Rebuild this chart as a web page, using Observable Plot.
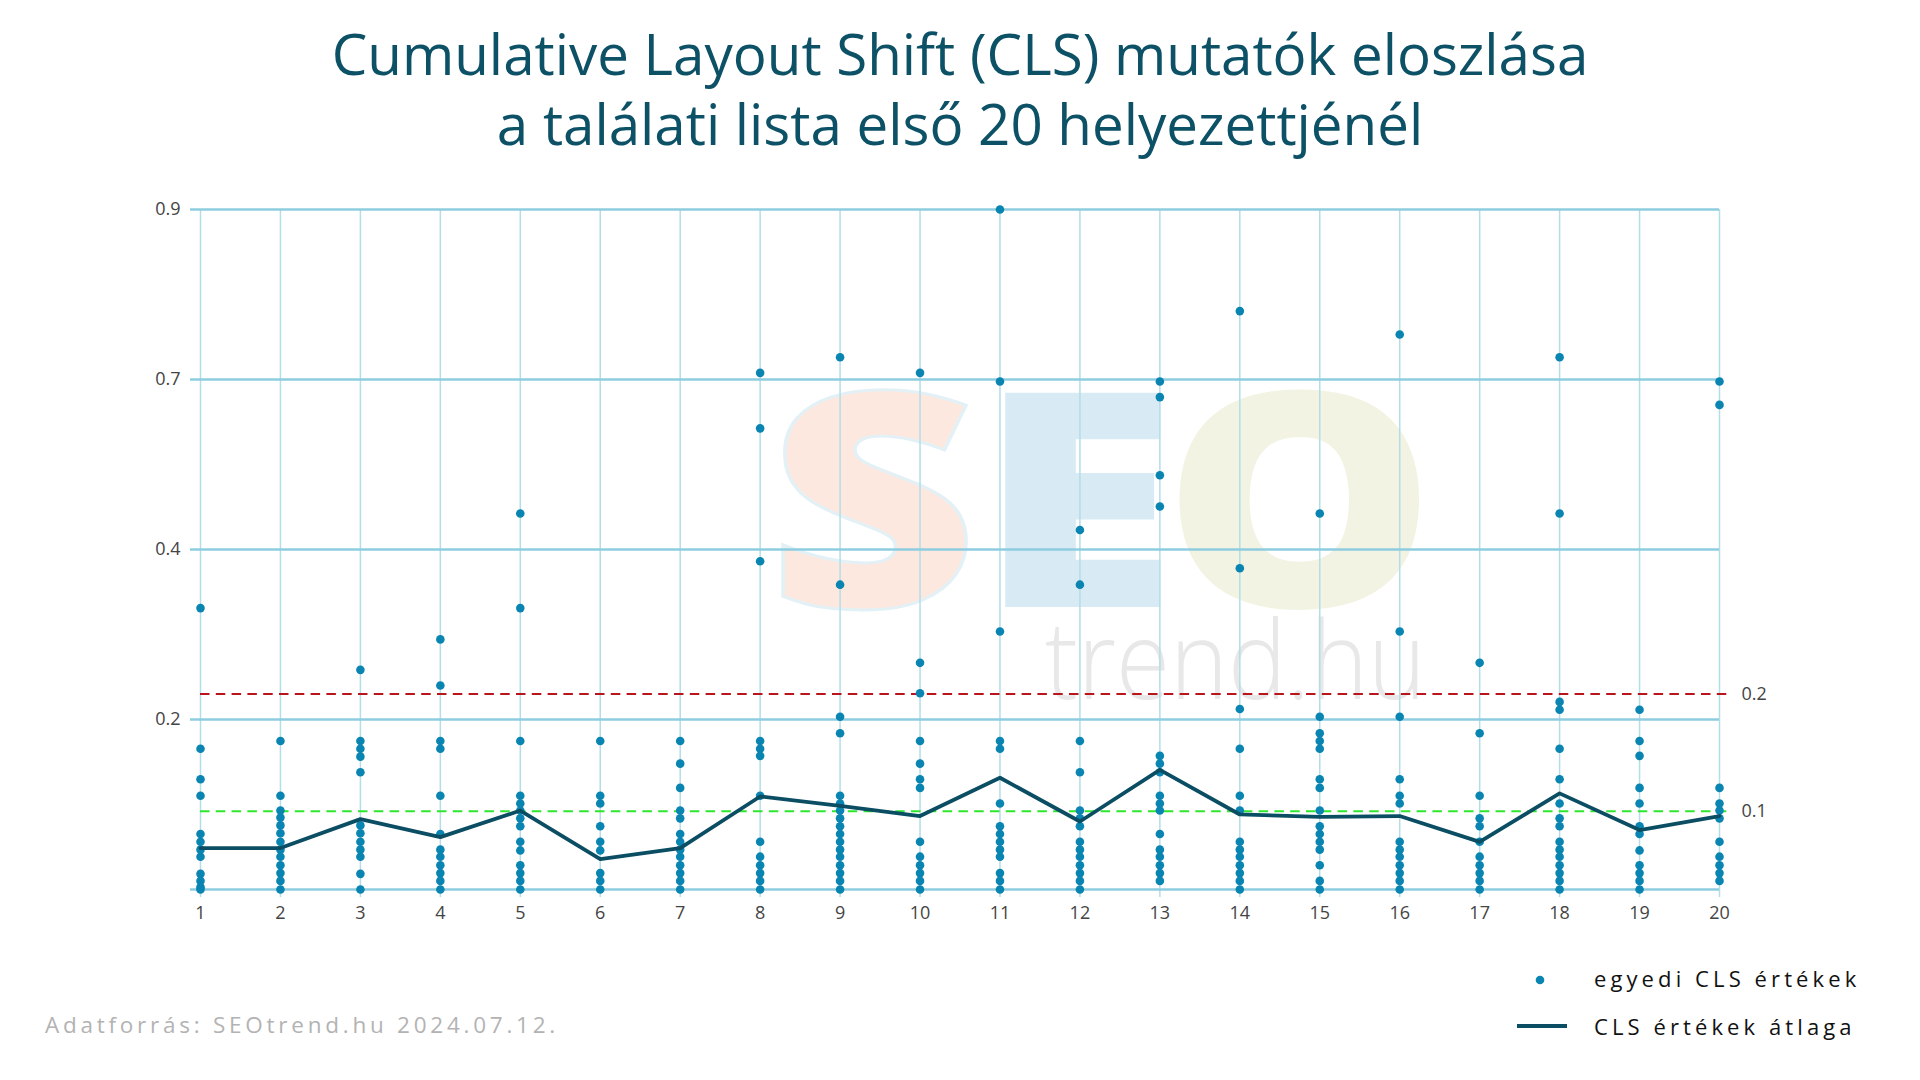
<!DOCTYPE html>
<html>
<head>
<meta charset="utf-8">
<script src="https://cdn.jsdelivr.net/npm/d3@7"></script>
<script src="https://cdn.jsdelivr.net/npm/@observablehq/plot@0.6"></script>
<style>
  body { margin: 0; background: #ffffff; font-family: "Open Sans", sans-serif; }
  #wrap { position: relative; width: 1920px; height: 1080px; overflow: hidden; background: #fff; }
  #title { position: absolute; left: 0; top: 19px; width: 1920px; text-align: center; color: #0c5166; font-size: 56.5px; line-height: 70px; font-weight: 400; z-index: 3; }
  #wm { position: absolute; left: 0; top: 0; width: 1920px; height: 1080px; z-index: 0; font-family: "Open Sans", sans-serif; }
  #wm span { position: absolute; line-height: 0.72; transform-origin: left top; white-space: nowrap; }
  #chart { position: absolute; left: 0; top: 0; z-index: 1; }
  .legtxt { position: absolute; font-size: 22px; letter-spacing: 4.1px; color: #111; z-index: 3; line-height: 1; }
  #caption { position: absolute; left: 45px; top: 1014px; font-size: 22.5px; letter-spacing: 3.75px; color: #b3b3b3; z-index: 3; line-height: 1; }
</style>
</head>
<body>
<div id="wrap">
  <div id="wm"><span style="left:767px;top:383px;font-size:300px;font-weight:800;color:#fde8df;-webkit-text-stroke:3px #e3f1f6;transform:scaleX(1.22);">S</span><span style="left:977px;top:383px;font-size:300px;font-weight:800;color:#d8ebf4;transform:scaleX(1.22);">E</span><span style="left:1162px;top:383px;font-size:300px;font-weight:800;color:#f2f3e2;transform:scaleX(1.15);">O</span><span style="left:1045px;top:619px;font-size:108px;font-weight:300;color:#e8e8e8;transform:scaleX(0.91);">trend.hu</span></div>
  <div id="title">Cumulative Layout Shift (CLS) mutatók eloszlása<br>a találati lista első 20 helyezettjénél</div>
  <div id="chart"></div>
  <svg style="position:absolute;left:1505px;top:964px;z-index:3" width="80" height="80">
    <circle cx="35" cy="16" r="4.3" fill="#0a85b2"></circle>
    <line x1="12" y1="62" x2="62" y2="62" stroke="#0b4e63" stroke-width="4"></line>
  </svg>
  <div class="legtxt" style="left:1594px;top:967px;">egyedi CLS értékek</div>
  <div class="legtxt" style="left:1594px;top:1015px;">CLS értékek átlaga</div>
  <div id="caption">Adatforrás: SEOtrend.hu 2024.07.12.</div>
</div>
<script>
// Positions in the result list
const positions = [1,2,3,4,5,6,7,8,9,10,11,12,13,14,15,16,17,18,19,20];

// Individual CLS values per position (visible points)
const p1  = [0.36, 0.18, 0.141, 0.12, 0.071, 0.061, 0.051, 0.042, 0.02, 0.011, 0.003, 0];
const p2  = [0.19, 0.12, 0.101, 0.092, 0.082, 0.072, 0.061, 0.051, 0.042, 0.031, 0.021, 0.011, 0];
const p3  = [0.281, 0.19, 0.18, 0.17, 0.15, 0.082, 0.072, 0.061, 0.051, 0.042, 0.02, 0];
const p4  = [0.32, 0.261, 0.19, 0.18, 0.12, 0.071, 0.051, 0.042, 0.031, 0.021, 0.011, 0];
const p5  = [0.481, 0.36, 0.19, 0.12, 0.11, 0.101, 0.091, 0.081, 0.061, 0.05, 0.031, 0.021, 0.011, 0];
const p6  = [0.19, 0.12, 0.11, 0.081, 0.061, 0.05, 0.021, 0.011, 0];
const p7  = [0.19, 0.161, 0.13, 0.101, 0.091, 0.071, 0.061, 0.051, 0.042, 0.031, 0.021, 0.011, 0];
const p8  = [0.661, 0.59, 0.42, 0.19, 0.18, 0.171, 0.12, 0.061, 0.042, 0.031, 0.021, 0.011, 0];
const p9  = [0.681, 0.39, 0.221, 0.2, 0.12, 0.11, 0.101, 0.091, 0.081, 0.071, 0.061, 0.051, 0.042, 0.031, 0.021, 0.011, 0];
const p10 = [0.661, 0.29, 0.251, 0.19, 0.161, 0.141, 0.13, 0.061, 0.042, 0.031, 0.021, 0.011, 0];
const p11 = [0.87, 0.65, 0.33, 0.19, 0.18, 0.11, 0.081, 0.071, 0.061, 0.051, 0.042, 0.021, 0.011, 0];
const p12 = [0.46, 0.39, 0.19, 0.15, 0.101, 0.091, 0.081, 0.061, 0.051, 0.042, 0.031, 0.021, 0.011, 0];
const p13 = [0.65, 0.63, 0.53, 0.49, 0.171, 0.161, 0.15, 0.12, 0.11, 0.101, 0.071, 0.051, 0.042, 0.031, 0.021, 0.011];
const p14 = [0.74, 0.411, 0.231, 0.18, 0.12, 0.101, 0.061, 0.051, 0.042, 0.031, 0.021, 0.011, 0];
const p15 = [0.481, 0.221, 0.2, 0.19, 0.18, 0.141, 0.13, 0.101, 0.081, 0.071, 0.061, 0.051, 0.031, 0.011, 0];
const p16 = [0.71, 0.33, 0.221, 0.141, 0.12, 0.11, 0.061, 0.051, 0.042, 0.031, 0.021, 0.011, 0];
const p17 = [0.29, 0.2, 0.12, 0.091, 0.081, 0.061, 0.042, 0.031, 0.021, 0.011, 0];
const p18 = [0.681, 0.481, 0.24, 0.23, 0.18, 0.141, 0.11, 0.091, 0.081, 0.061, 0.051, 0.042, 0.031, 0.021, 0.011, 0];
const p19 = [0.23, 0.19, 0.171, 0.13, 0.11, 0.081, 0.071, 0.05, 0.031, 0.021, 0.011, 0];
const p20 = [0.65, 0.62, 0.13, 0.11, 0.101, 0.091, 0.061, 0.042, 0.031, 0.021, 0.011];

// Average CLS per position
const means = [0.053, 0.053, 0.090, 0.067, 0.101, 0.039, 0.053, 0.119, 0.107, 0.094,
               0.143, 0.087, 0.153, 0.096, 0.093, 0.094, 0.061, 0.123, 0.076, 0.094];

// Y axis ticks and their printed labels
const yTickValues = [0.2175, 0.435, 0.6525, 0.87];
const yTickLabels = ["0.2", "0.4", "0.7", "0.9"];
const yGridValues = [0, 0.2175, 0.435, 0.6525, 0.87];

// CLS thresholds (dashed reference lines) and their labels
const thresholds = [0.25, 0.1];
const thresholdLabels = ["0.2", "0.1"];
const thresholdColors = ["#b8161c", "#2ee62e"];

const columns = [p1,p2,p3,p4,p5,p6,p7,p8,p9,p10,p11,p12,p13,p14,p15,p16,p17,p18,p19,p20];
const points = columns.flatMap((vals, i) => vals.map(v => ({pos: positions[i], v})));
const meanRows = positions.map((p, i) => ({pos: p, m: means[i]}));
const thrRows = thresholds.map((t, i) => ({t, label: thresholdLabels[i], color: thresholdColors[i]}));

const chart = Plot.plot({
  width: 1920,
  height: 1080,
  marginLeft: 200,
  marginRight: 201,
  marginTop: 209,
  marginBottom: 191,
  style: {background: "transparent", fontFamily: "Open Sans, sans-serif", fontSize: "18px", color: "#444"},
  x: {type: "linear", domain: [1, 20]},
  y: {domain: [0, 0.87]},
  marks: [
    Plot.ruleX(positions, {stroke: "#b3dde8", strokeWidth: 1.5, insetBottom: -8}),
    Plot.ruleY(yGridValues, {stroke: "#8ecde0", strokeWidth: 2.5, insetLeft: -10}),
    Plot.ruleY(thrRows, {y: "t", stroke: "color", strokeWidth: 2, strokeDasharray: "9.5,6.3", insetRight: -10}),
    Plot.text(thrRows, {x: 20, y: "t", text: "label", dx: 22, textAnchor: "start", fill: "#444", fontSize: 18}),
    Plot.dot(points, {x: "pos", y: "v", r: 4.3, fill: "#0a85b2"}),
    Plot.line(meanRows, {x: "pos", y: "m", stroke: "#0b4e63", strokeWidth: 3.8}),
    Plot.axisY({ticks: yTickValues, tickFormat: d => yTickLabels[yTickValues.indexOf(d)], tickSize: 0, tickPadding: 20, label: null, fontSize: 18}),
    Plot.axisX({ticks: positions, tickFormat: d => String(d), tickSize: 0, tickPadding: 17, label: null, fontSize: 18})
  ]
});
document.getElementById("chart").appendChild(chart);
</script>
</body>
</html>
